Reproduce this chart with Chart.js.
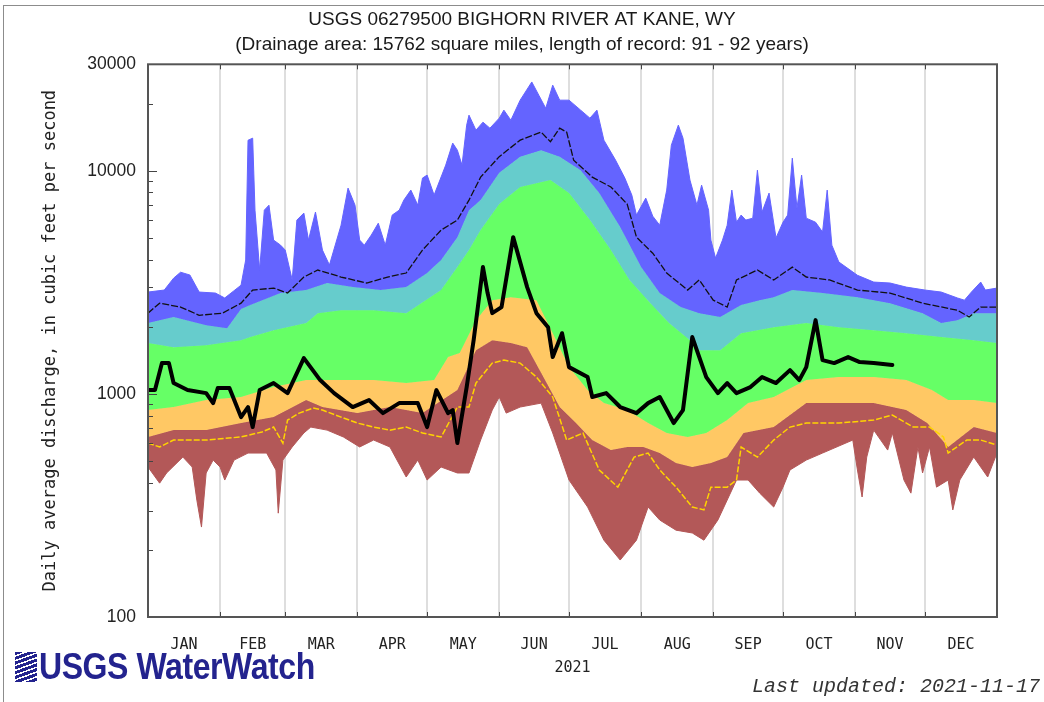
<!DOCTYPE html>
<html>
<head>
<meta charset="utf-8">
<title>Bighorn River at Kane, WY - daily discharge</title>
<script src="https://cdn.jsdelivr.net/npm/chart.js@4.4.1/dist/chart.umd.min.js"></script>
<style>
  html, body { margin: 0; padding: 0; background: #fff; }
  #wrap { position: relative; width: 1044px; height: 702px; overflow: hidden; }
  #wrap canvas { position: absolute; left: 0; top: 0; }
  #edge { position: absolute; left: 3px; top: 5px; right: -10px; bottom: -10px;
          border-left: 1px solid #8c8c8c; border-top: 1px solid #8c8c8c; pointer-events: none; }
  #logo { position: absolute; left: 15px; top: 646px; display: flex; align-items: center;
          color: #23238e; font: bold 36px 'Liberation Sans Narrow', 'Liberation Sans', sans-serif;
          letter-spacing: -0.5px; }
  #logo .mark { width: 22px; height: 30px; margin-right: 2px;
          background: repeating-linear-gradient(160deg, #23238e 0 3px, #fff 3px 4.5px); }
  #logo .word { display: inline-block; transform: scaleX(0.89); transform-origin: left center; }
  #updated { position: absolute; right: 4px; top: 675px; color: #333;
          font: italic 20px 'Liberation Mono', 'DejaVu Sans Mono', monospace; }
</style>
</head>
<body>
<div id="wrap">
  <canvas id="flow" width="1044" height="702"></canvas>
  <div id="edge"></div>
  <div id="logo"><div class="mark"></div><span class="word">USGS WaterWatch</span></div>
  <div id="updated">Last updated: 2021-11-17</div>
</div>
<script>
// x values are day of year (0 = Jan 1), y values are discharge in cfs
const monthNames = ['JAN', 'FEB', 'MAR', 'APR', 'MAY', 'JUN', 'JUL', 'AUG', 'SEP', 'OCT', 'NOV', 'DEC'];
const monthStartDays = [0, 31, 59, 90, 120, 151, 181, 212, 243, 273, 304, 334, 365];
const yTickValues = [100, 1000, 10000, 30000];
const yMinorTicks = [200, 300, 400, 500, 600, 700, 800, 900, 2000, 3000, 4000, 5000, 6000, 7000, 8000, 9000, 20000];

// historical daily statistics, [day, cfs]
const maxFlow = [[0,2860],[7,2920],[11,3300],[14,3510],[18,3410],[22,2860],[29,2830],[33,2690],[40,3070],[42,3980],[43,13700],[45,14000],[46,6660],[48,3590],[50,6660],[52,7010],[54,4890],[57,4640],[59,4410],[62,3240],[64,6010],[67,6460],[69,4890],[72,6530],[75,4410],[78,3780],[83,5700],[86,8360],[89,7010],[91,4890],[93,4640],[96,5150],[99,5820],[102,4640],[105,6330],[108,6660],[110,7390],[113,8190],[116,7010],[118,9270],[120,9560],[123,7780],[128,10600],[131,13300],[133,12370],[135,10600],[137,16010],[138,17750],[141,15200],[144,16510],[147,15520],[151,17210],[153,18690],[156,16850],[160,20720],[165,25000],[168,21820],[171,19050],[174,24190],[177,20720],[181,20720],[186,18690],[190,17210],[193,18690],[196,13710],[201,11160],[205,9270],[208,7780],[210,6330],[214,7540],[217,6260],[220,5700],[223,8190],[225,13020],[228,16010],[230,14000],[233,9080],[236,7010],[238,8620],[241,6660],[242,4890],[244,4060],[247,4890],[249,5700],[251,8190],[253,5880],[255,6330],[257,6010],[260,6130],[262,10060],[264,6530],[267,7940],[270,5000],[273,5880],[275,6330],[277,11390],[279,6800],[281,9560],[283,6130],[287,5880],[290,5310],[292,8190],[294,4640],[297,3900],[305,3400],[312,3170],[319,3140],[326,3010],[334,2920],[341,2860],[348,2690],[351,2630],[354,2860],[358,3170],[360,2920],[365,2980]];
const pct90 = [[0,2080],[11,2210],[25,2030],[34,1970],[40,2400],[44,2500],[57,2830],[68,2920],[77,3140],[88,3010],[100,2920],[111,3010],[120,3480],[126,3980],[133,5040],[138,6660],[143,7390],[151,9800],[160,11570],[169,12370],[177,11570],[186,10060],[194,7940],[203,5600],[212,3700],[220,2830],[229,2450],[237,2300],[246,2210],[255,2500],[263,2630],[269,2710],[277,2920],[290,2830],[305,2710],[319,2550],[333,2300],[341,2080],[348,2140],[355,2300],[365,2300]];
const pct75 = [[0,1690],[11,1620],[25,1650],[40,1740],[44,1800],[54,1930],[68,2080],[73,2300],[83,2370],[97,2370],[111,2300],[126,2920],[133,3700],[138,4410],[143,5420],[151,7090],[160,8460],[173,9080],[181,7940],[190,6010],[199,4410],[207,3240],[216,2550],[224,2080],[233,1740],[237,1570],[246,1570],[255,1870],[269,1990],[283,2080],[297,1990],[312,1930],[326,1870],[341,1800],[355,1740],[365,1690]];
const pct25 = [[0,846],[11,873],[25,938],[40,968],[54,1073],[68,1153],[83,1153],[97,1153],[111,1118],[123,1153],[129,1462],[134,1524],[141,2140],[148,2630],[156,2710],[167,2630],[174,1870],[181,1318],[189,1040],[196,909],[206,846],[215,740],[223,668],[232,641],[240,668],[249,763],[258,909],[269,968],[283,1153],[297,1190],[312,1190],[326,1153],[337,1040],[344,938],[355,938],[365,909]];
const pct10 = [[0,641],[11,688],[25,688],[40,740],[54,787],[68,938],[75,873],[90,820],[104,873],[118,820],[133,1040],[141,1570],[148,1740],[156,1690],[163,1620],[170,1190],[177,873],[184,740],[191,621],[199,560],[206,578],[213,578],[220,543],[227,490],[234,470],[242,490],[249,521],[256,668],[269,710],[283,909],[297,909],[312,909],[326,846],[335,740],[344,578],[355,710],[365,668]];
const minFlow = [[0,470],[5,398],[8,442],[15,521],[19,470],[21,334],[23,253],[25,442],[28,505],[31,470],[33,411],[37,505],[43,543],[51,543],[55,456],[56,292],[58,505],[62,578],[67,668],[70,710],[77,688],[84,641],[91,578],[97,621],[104,578],[111,424],[116,505],[120,411],[126,470],[133,442],[138,442],[143,621],[148,846],[151,968],[154,820],[160,873],[169,909],[174,668],[181,411],[189,311],[196,221],[203,180],[210,221],[215,311],[220,272],[227,245],[234,238],[239,221],[245,272],[253,411],[258,411],[263,359],[269,311],[273,382],[276,456],[283,505],[290,543],[303,621],[305,456],[307,345],[309,521],[312,688],[318,560],[320,668],[325,411],[328,359],[331,578],[333,442],[336,578],[339,382],[344,411],[346,302],[349,411],[355,521],[361,424],[365,543]];
const meanFlow = [[0,2300],[5,2550],[14,2450],[22,2250],[32,2300],[40,2550],[45,2920],[54,2980],[60,2830],[67,3340],[73,3590],[83,3340],[94,3140],[103,3340],[111,3480],[118,4410],[126,5420],[133,6010],[138,7390],[143,9360],[151,11570],[160,13710],[169,14900],[173,13500],[177,15520],[180,14900],[183,11160],[191,9360],[199,8460],[206,7090],[210,5040],[217,4270],[223,3480],[232,2920],[237,3240],[243,2630],[249,2450],[253,3240],[262,3590],[269,3240],[277,3700],[283,3340],[293,3240],[305,2920],[319,2830],[333,2550],[348,2370],[353,2210],[358,2450],[365,2450]];
// yellow dashed trace
const goldTrace = [[0,602],[5,578],[11,621],[25,621],[40,641],[49,675],[54,710],[58,602],[60,763],[65,820],[71,864],[75,846],[83,787],[90,740],[97,710],[104,688],[111,710],[118,668],[126,641],[133,873],[138,873],[141,1118],[148,1374],[153,1417],[160,1374],[167,1189],[174,968],[180,621],[187,668],[194,456],[202,382],[209,521],[215,543],[220,456],[227,382],[234,311],[239,302],[242,382],[249,382],[253,411],[255,578],[262,521],[269,621],[276,710],[283,740],[297,740],[312,763],[320,804],[329,710],[336,710],[342,641],[344,543],[352,621],[358,621],[365,590]];
// 2021 daily flow, up to Nov 17
const flow2021 = [[0,1040],[3,1040],[6,1374],[9,1374],[11,1118],[17,1040],[25,1008],[28,909],[30,1062],[35,1062],[40,787],[43,873],[45,710],[48,1040],[54,1118],[60,1008],[67,1447],[74,1153],[80,1008],[88,873],[95,938],[101,820],[108,909],[116,909],[120,710],[124,1040],[129,820],[131,846],[133,602],[137,1073],[140,1742],[144,3700],[146,2830],[148,2300],[152,2450],[157,5040],[163,3010],[167,2300],[172,1990],[174,1462],[178,1870],[181,1318],[189,1189],[191,968],[197,1008],[203,873],[210,820],[215,909],[220,968],[226,740],[230,846],[234,1797],[237,1462],[240,1189],[245,1008],[249,1118],[253,1008],[259,1073],[264,1189],[270,1118],[276,1278],[280,1153],[283,1318],[287,2141],[290,1417],[295,1374],[301,1462],[306,1388],[312,1374],[320,1346]];

const narrow = "'Liberation Sans Narrow', 'Arial Narrow', 'Liberation Sans', sans-serif";
const mono = "'DejaVu Sans Mono', 'Liberation Mono', monospace";

const pts = rows => rows.map(([x, y]) => ({ x, y }));

// mid-month positions carry the month names, month starts carry the grid lines
const monthMids = monthNames.map((m, i) => (monthStartDays[i] + monthStartDays[i + 1]) / 2);
const monthLabelAt = new Map(monthMids.map((d, i) => [d, monthNames[i]]));

function band(label, rows, color, fillTo) {
  return {
    label, data: pts(rows), borderColor: color, backgroundColor: color,
    borderWidth: 1, pointRadius: 0, tension: 0, order: 3,
    fill: fillTo == null ? false : fillTo,
  };
}

// inward tick marks and the dark plot frame
const plotFrame = {
  id: 'plotFrame',
  afterDraw(chart) {
    const { ctx, chartArea: a, scales: { x, y } } = chart;
    ctx.save();
    ctx.strokeStyle = '#444';
    ctx.lineWidth = 1;
    ctx.beginPath();
    monthStartDays.forEach(d => {
      const px = Math.round(x.getPixelForValue(d)) + 0.5;
      ctx.moveTo(px, a.bottom); ctx.lineTo(px, a.bottom - 5);
      ctx.moveTo(px, a.top); ctx.lineTo(px, a.top + 5);
    });
    yMinorTicks.forEach(v => {
      const py = Math.round(y.getPixelForValue(v)) + 0.5;
      ctx.moveTo(a.left, py); ctx.lineTo(a.left + 5, py);
    });
    yTickValues.forEach(v => {
      const py = Math.round(y.getPixelForValue(v)) + 0.5;
      ctx.moveTo(a.left, py); ctx.lineTo(a.left + 9, py);
    });
    ctx.stroke();
    ctx.lineWidth = 2;
    ctx.strokeStyle = '#555';
    ctx.strokeRect(a.left, a.top, a.right - a.left, a.bottom - a.top);
    ctx.restore();
  }
};

new Chart(document.getElementById('flow'), {
  type: 'line',
  data: {
    datasets: [
      { label: '2021', data: pts(flow2021), borderColor: '#000', borderWidth: 4, pointRadius: 0,
        tension: 0, borderJoinStyle: 'round', borderCapStyle: 'round', fill: false, order: 0 },
      { label: 'Mean', data: pts(meanFlow), borderColor: '#111', borderWidth: 1.3, borderDash: [7, 2],
        pointRadius: 0, tension: 0, fill: false, order: 1 },
      { label: 'Trace', data: pts(goldTrace), borderColor: '#ffd400', borderWidth: 1.5, borderDash: [6, 2],
        pointRadius: 0, tension: 0, fill: false, order: 2 },
      band('Max', maxFlow, '#6464ff', 4),
      band('90th', pct90, '#66cccc', 5),
      band('75th', pct75, '#66ff66', 6),
      band('25th', pct25, '#ffc864', 7),
      band('10th', pct10, '#b35858', 8),
      band('Min', minFlow, '#b35858', null),
    ],
  },
  options: {
    responsive: false,
    devicePixelRatio: 1,
    animation: false,
    layout: { padding: 0 },
    plugins: {
      legend: { display: false },
      tooltip: { enabled: false },
      title: {
        display: true, text: 'USGS 06279500 BIGHORN RIVER AT KANE, WY', color: '#1a1a1a',
        font: { family: narrow, size: 19, weight: 'normal', lineHeight: 1.1 },
        padding: { top: 9.5, bottom: 4 },
      },
      subtitle: {
        display: true, text: '(Drainage area: 15762 square miles, length of record: 91 - 92 years)', color: '#1a1a1a',
        font: { family: narrow, size: 19, lineHeight: 1.1 },
        padding: { top: 0, bottom: 9 },
      },
    },
    scales: {
      x: {
        type: 'linear', min: 0, max: 365,
        afterBuildTicks: s => { s.ticks = [...monthStartDays, ...monthMids].sort((a, b) => a - b).map(value => ({ value })); },
        afterFit: s => { s.height = 85; },
        grid: {
          drawTicks: false,
          color: c => (c.tick && monthStartDays.includes(c.tick.value)) ? '#dedede' : 'rgba(0,0,0,0)',
          lineWidth: 2,
        },
        border: { display: false },
        ticks: {
          autoSkip: false, maxRotation: 0, minRotation: 0, padding: 19,
          color: '#222', font: { family: mono, size: 15 },
          callback: v => monthLabelAt.get(v) || '',
        },
        title: { display: true, text: '2021', color: '#222', font: { family: mono, size: 15 }, padding: { top: 0, bottom: 25 } },
      },
      y: {
        type: 'logarithmic', min: 100, max: 30000,
        afterBuildTicks: s => { s.ticks = yTickValues.map(value => ({ value })); },
        afterFit: s => { s.width = 148; },
        grid: { display: false, drawTicks: false },
        border: { display: false },
        ticks: { padding: 12, color: '#222', font: { family: narrow, size: 17.5 }, callback: v => String(v) },
        title: {
          display: true, text: 'Daily average discharge, in cubic feet per second', color: '#222',
          font: { family: mono, size: 17 }, padding: { top: 40, bottom: 0 },
        },
      },
      // empty right-hand strip so the titles centre over the whole page
      yRight: {
        type: 'linear', position: 'right', display: true,
        afterFit: s => { s.width = 47; },
        grid: { display: false, drawTicks: false }, border: { display: false },
        ticks: { display: false },
      },
    },
  },
  plugins: [plotFrame],
});
</script>
</body>
</html>
